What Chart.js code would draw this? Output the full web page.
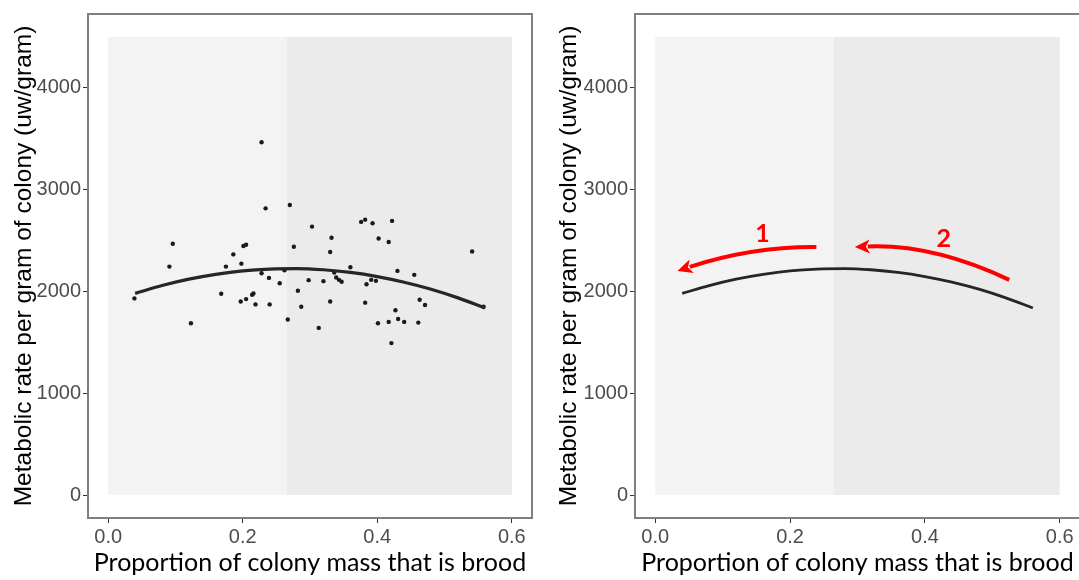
<!doctype html>
<html lang="en">
  <head>
    <meta charset="UTF-8" />
    <title>Metabolic rate vs brood</title>
    <script src="https://cdn.jsdelivr.net/npm/chart.js"></script>
    <style>
      html, body { margin: 0; padding: 0; background: #fff; }
      body { width: 1079px; height: 580px; overflow: hidden; position: relative; }
      canvas { position: absolute; top: 0; }
      #left { left: 0; }
      #right { left: 540px; }
    </style>
  </head>
  <body>
    <canvas id="left" width="540" height="580"></canvas>
    <canvas id="right" width="540" height="580"></canvas>
    <script>
      // colony measurements
      const brood = [0.039, 0.091, 0.096, 0.123, 0.168, 0.175, 0.186, 0.197, 0.198, 0.201,
        0.205, 0.205, 0.214, 0.216, 0.219, 0.228, 0.228, 0.234, 0.239, 0.240,
        0.255, 0.262, 0.267, 0.270, 0.276, 0.282, 0.287, 0.298, 0.303, 0.313,
        0.320, 0.330, 0.330, 0.332, 0.336, 0.339, 0.343, 0.347, 0.360, 0.376,
        0.382, 0.382, 0.384, 0.391, 0.393, 0.398, 0.401, 0.402, 0.417, 0.417,
        0.421, 0.422, 0.427, 0.430, 0.431, 0.440, 0.455, 0.461, 0.463, 0.471,
        0.541, 0.558];
      const metabolic = [1932, 2244, 2468, 1688, 1977, 2244, 2364, 1902, 2273, 2446,
        2459, 1925, 1968, 1980, 1873, 3466, 2179, 2816, 2133, 1873,
        2081, 2208, 1724, 2849, 2439, 2007, 1850, 2111, 2637, 1642,
        2101, 2387, 1902, 2527, 2185, 2137, 2114, 2095, 2237, 2683,
        2705, 1890, 2071, 2114, 2670, 2104, 1688, 2520, 2485, 1701,
        1493, 2693, 1815, 2202, 1730, 1701, 2163, 1694, 1919, 1867,
        2393, 1850];

      // fitted curve
      const fitBrood = [0.04, 0.08, 0.12, 0.16, 0.20, 0.24, 0.28, 0.32, 0.36, 0.40, 0.44, 0.48, 0.52, 0.56];
      const fitRate = [1981, 2058, 2121, 2168, 2202, 2220, 2224, 2213, 2187, 2146, 2091, 2022, 1937, 1838];

      const xTicks = [0, 0.2, 0.4, 0.6];
      const yTicks = [0, 1000, 2000, 3000, 4000];
      const shadeEdges = [0, 0.265, 0.6];
      const shadeTop = 4500;

      // arrows on the right panel: [start, middle, tip] as [brood, rate]
      const arrowOne = [[0.239, 2436], [0.140, 2380], [0.033, 2202]];
      const arrowTwo = [[0.525, 2114], [0.411, 2371], [0.296, 2436]];
      const arrowLabels = [["1", 0.159, 2565], ["2", 0.428, 2515]];

      const toXY = (xs, ys) => xs.map((x, i) => ({ x: x, y: ys[i] }));

      const shadePlugin = {
        id: "shade",
        beforeDatasetsDraw(chart) {
          const { ctx, scales: { x, y } } = chart;
          const fills = ["#f3f3f3", "#ebebeb"];
          ctx.save();
          for (let i = 0; i < shadeEdges.length - 1; i++) {
            const x0 = x.getPixelForValue(shadeEdges[i]);
            const x1 = x.getPixelForValue(shadeEdges[i + 1]);
            const y0 = y.getPixelForValue(shadeTop);
            const y1 = y.getPixelForValue(0);
            ctx.fillStyle = fills[i];
            ctx.fillRect(x0, y0, x1 - x0, y1 - y0);
          }
          ctx.restore();
        },
        afterDraw(chart) {
          const { ctx, chartArea: a } = chart;
          ctx.save();
          ctx.strokeStyle = "#7f7f7f";
          ctx.lineWidth = 2;
          ctx.strokeRect(a.left, a.top, a.right - a.left, a.bottom - a.top);
          ctx.restore();
        },
      };

      function drawArrow(chart, pts) {
        const { ctx, scales: { x, y } } = chart;
        const p = pts.map((d) => [x.getPixelForValue(d[0]), y.getPixelForValue(d[1])]);
        const [s, m, t] = p;
        const c = [2 * m[0] - (s[0] + t[0]) / 2, 2 * m[1] - (s[1] + t[1]) / 2];
        const ang = Math.atan2(t[1] - c[1], t[0] - c[0]);
        const len = 15, half = 7;
        const bx = t[0] - Math.cos(ang) * (len - 2);
        const by = t[1] - Math.sin(ang) * (len - 2);
        ctx.beginPath();
        ctx.moveTo(s[0], s[1]);
        ctx.quadraticCurveTo(c[0], c[1], bx, by);
        ctx.stroke();
        ctx.beginPath();
        ctx.moveTo(t[0], t[1]);
        ctx.lineTo(t[0] - Math.cos(ang) * len + Math.sin(ang) * half, t[1] - Math.sin(ang) * len - Math.cos(ang) * half);
        ctx.lineTo(t[0] - Math.cos(ang) * (len - 4), t[1] - Math.sin(ang) * (len - 4));
        ctx.lineTo(t[0] - Math.cos(ang) * len - Math.sin(ang) * half, t[1] - Math.sin(ang) * len + Math.cos(ang) * half);
        ctx.closePath();
        ctx.fill();
      }

      const arrowPlugin = {
        id: "arrows",
        afterDatasetsDraw(chart) {
          const { ctx, scales: { x, y } } = chart;
          ctx.save();
          ctx.strokeStyle = "#ff0000";
          ctx.fillStyle = "#ff0000";
          ctx.lineWidth = 4;
          drawArrow(chart, arrowOne);
          drawArrow(chart, arrowTwo);
          ctx.font = "bold 25px Lato, sans-serif";
          ctx.textAlign = "center";
          ctx.textBaseline = "middle";
          arrowLabels.forEach(([txt, bx, ry]) => {
            ctx.fillText(txt, x.getPixelForValue(bx), y.getPixelForValue(ry));
          });
          ctx.restore();
        },
      };

      const sans = "Arial, 'Liberation Sans', sans-serif";
      const tickFont = { family: sans, size: 20 };

      function makeOptions(yAxisWidth, titlePad, rightPad) {
        return {
          responsive: false,
          animation: false,
          layout: { padding: { top: 9, right: rightPad, left: 0, bottom: 0 } },
          plugins: { legend: { display: false }, tooltip: { enabled: false } },
          scales: {
            x: {
              type: "linear",
              min: -0.03,
              max: 0.63,
              afterBuildTicks: (s) => { s.ticks = xTicks.map((v) => ({ value: v })); },
              afterFit: (s) => { s.height = 62; },
              ticks: { color: "#4d4d4d", font: tickFont, padding: 2, callback: (v) => v.toFixed(1) },
              grid: { drawOnChartArea: false, tickLength: 5, color: "#333" },
              border: { display: false },
              title: {
                display: true,
                text: "Proportion of colony mass that is brood",
                color: "#000",
                font: { family: "Lato, sans-serif", size: 25 },
                padding: { top: 0, bottom: 2 },
              },
            },
            y: {
              min: -225,
              max: 4725,
              afterBuildTicks: (s) => { s.ticks = yTicks.map((v) => ({ value: v })); },
              afterFit: (s) => { s.width = yAxisWidth; },
              ticks: { color: "#4d4d4d", font: tickFont, padding: 2, callback: (v) => String(v) },
              grid: { drawOnChartArea: false, tickLength: 5, color: "#333" },
              border: { display: false },
              title: {
                display: true,
                text: "Metabolic rate per gram of colony (uw/gram)",
                color: "#000",
                font: { family: sans, size: 24.5 },
                padding: { top: titlePad, bottom: 0 },
              },
            },
          },
        };
      }

      const fitLine = (width) => ({
        type: "line",
        data: toXY(fitBrood, fitRate),
        borderColor: "#262626",
        borderWidth: width,
        pointRadius: 0,
        cubicInterpolationMode: "monotone",
        fill: false,
        order: 0,
      });

      new Chart(document.getElementById("left"), {
        type: "scatter",
        data: {
          datasets: [
            fitLine(3.2),
            {
              data: toXY(brood, metabolic),
              backgroundColor: "#1a1a1a",
              borderWidth: 0,
              pointRadius: 2.2,
              order: 1,
            },
          ],
        },
        options: makeOptions(88, 10, 8),
        plugins: [shadePlugin],
      });

      new Chart(document.getElementById("right"), {
        type: "scatter",
        data: { datasets: [fitLine(2.8)] },
        options: makeOptions(95, 15, 0),
        plugins: [shadePlugin, arrowPlugin],
      });
    </script>
  </body>
</html>
